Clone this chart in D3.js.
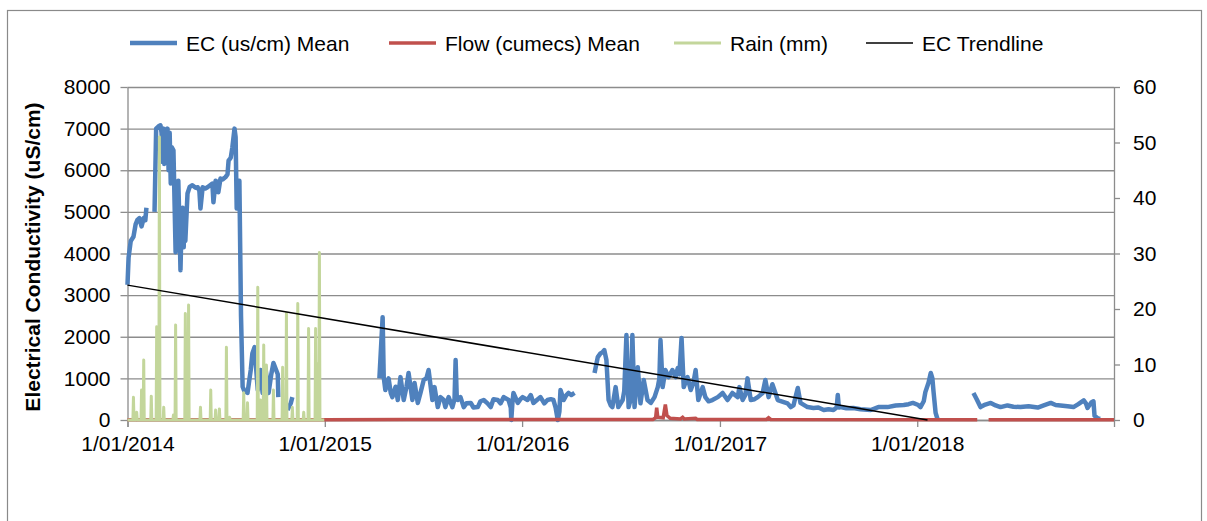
<!DOCTYPE html>
<html>
<head>
<meta charset="utf-8">
<script src="https://cdn.jsdelivr.net/npm/d3@7"></script>
<style>
body { margin: 0; background: #fff; }
text { font-family: "Liberation Sans", Arial, sans-serif; }
</style>
</head>
<body>
<script>
// EC daily mean (us/cm); null = no record
let ecMean = [
    ["2014-01-01",3250],["2014-01-03",3900],["2014-01-07",4300],["2014-01-12",4400],["2014-01-16",4700],["2014-01-19",4800],
    ["2014-01-23",4850],["2014-01-27",4650],["2014-01-31",4850],["2014-02-03",4800],["2014-02-05",5100],["2014-02-12",null],
    ["2014-02-20",5000],["2014-02-23",7000],["2014-02-27",7050],["2014-03-03",7080],["2014-03-05",6900],["2014-03-07",6200],
    ["2014-03-09",7000],["2014-03-10",6150],["2014-03-12",6900],["2014-03-14",6300],["2014-03-16",7000],["2014-03-18",6000],
    ["2014-03-20",6900],["2014-03-22",5680],["2014-03-24",6550],["2014-03-27",6480],["2014-03-31",4030],["2014-04-02",4600],
    ["2014-04-03",4960],["2014-04-05",5750],["2014-04-08",4200],["2014-04-09",3600],["2014-04-11",4700],["2014-04-13",5100],
    ["2014-04-15",4150],["2014-04-16",5000],["2014-04-18",4300],["2014-04-22",5440],["2014-04-26",5600],["2014-05-01",5640],
    ["2014-05-07",5580],["2014-05-11",5590],["2014-05-14",5500],["2014-05-16",5080],["2014-05-20",5590],["2014-05-25",5560],
    ["2014-05-29",5590],["2014-06-04",5650],["2014-06-07",5680],["2014-06-09",5230],["2014-06-13",5750],["2014-06-17",5700],
    ["2014-06-18",5470],["2014-06-22",5800],["2014-06-26",5780],["2014-07-01",5830],["2014-07-05",5900],["2014-07-07",6230],
    ["2014-07-11",6300],["2014-07-14",6550],["2014-07-18",7000],["2014-07-20",6800],["2014-07-22",5080],["2014-07-24",5750],
    ["2014-07-27",5750],["2014-07-30",2500],["2014-08-02",800],["2014-08-05",700],["2014-08-11",650],["2014-08-17",1200],
    ["2014-08-20",1600],["2014-08-24",1750],["2014-08-30",720],["2014-09-04",1200],["2014-09-08",650],["2014-09-13",1270],
    ["2014-09-19",650],["2014-09-24",1100],["2014-09-28",1370],["2014-10-06",1100],["2014-10-07",550],["2014-10-15",null],
    ["2014-10-24",240],["2014-10-30",400],["2014-11-02",550],["2014-11-10",null],
    ["2015-04-12",1000],["2015-04-18",2470],["2015-04-20",1030],["2015-04-23",720],["2015-04-29",1000],["2015-05-03",650],
    ["2015-05-06",550],["2015-05-12",800],["2015-05-16",480],["2015-05-21",1030],["2015-05-27",480],["2015-06-01",790],
    ["2015-06-05",1130],["2015-06-12",480],["2015-06-16",890],["2015-06-22",410],["2015-06-27",650],["2015-07-03",960],
    ["2015-07-08",1000],["2015-07-12",1200],["2015-07-19",480],["2015-07-23",790],["2015-07-29",310],["2015-08-03",550],
    ["2015-08-09",480],["2015-08-12",310],["2015-08-18",550],["2015-08-25",310],["2015-08-29",500],["2015-08-31",1440],
    ["2015-09-02",600],["2015-09-04",480],["2015-09-09",550],["2015-09-15",310],["2015-09-20",400],["2015-09-28",410],
    ["2015-10-03",300],["2015-10-11",310],["2015-10-16",450],["2015-10-22",480],["2015-10-29",400],["2015-11-04",310],
    ["2015-11-09",500],["2015-11-17",480],["2015-11-22",400],["2015-11-28",550],["2015-12-07",480],["2015-12-11",300],
    ["2015-12-12",0],["2015-12-14",400],["2015-12-16",650],["2015-12-24",410],["2015-12-29",500],["2016-01-02",550],
    ["2016-01-11",480],["2016-01-17",600],["2016-01-22",410],["2016-01-30",500],["2016-02-04",550],["2016-02-11",400],
    ["2016-02-17",480],["2016-02-23",500],["2016-02-28",480],["2016-03-03",300],["2016-03-07",0],["2016-03-10",200],
    ["2016-03-12",720],["2016-03-18",480],["2016-03-23",600],["2016-03-27",650],["2016-04-01",600],["2016-04-07",650],
    ["2016-04-20",null],
    ["2016-05-14",1130],["2016-05-20",1510],["2016-05-25",1600],["2016-05-29",1630],["2016-06-01",1680],["2016-06-05",1440],
    ["2016-06-09",480],["2016-06-13",350],["2016-06-16",310],["2016-06-22",790],["2016-06-27",310],["2016-07-05",480],
    ["2016-07-08",700],["2016-07-12",2040],["2016-07-16",310],["2016-07-20",500],["2016-07-23",2040],["2016-07-27",310],
    ["2016-08-02",1270],["2016-08-07",400],["2016-08-13",960],["2016-08-20",480],["2016-08-26",410],["2016-09-02",550],
    ["2016-09-08",790],["2016-09-11",1000],["2016-09-13",1920],["2016-09-17",790],["2016-09-22",1200],["2016-09-28",1030],
    ["2016-10-05",1200],["2016-10-11",1030],["2016-10-15",1250],["2016-10-18",1100],["2016-10-22",1970],["2016-10-26",790],
    ["2016-11-02",1030],["2016-11-08",720],["2016-11-13",900],["2016-11-17",1200],["2016-11-22",480],["2016-11-30",790],
    ["2016-12-05",550],["2016-12-11",450],["2016-12-18",480],["2016-12-28",550],["2017-01-06",650],["2017-01-15",480],
    ["2017-01-24",650],["2017-02-03",550],["2017-02-06",790],["2017-02-12",480],["2017-02-17",600],["2017-02-21",1000],
    ["2017-02-27",480],["2017-03-06",500],["2017-03-12",550],["2017-03-21",650],["2017-03-26",960],["2017-04-01",550],
    ["2017-04-08",860],["2017-04-18",480],["2017-04-29",430],["2017-05-06",400],["2017-05-12",310],["2017-05-17",350],
    ["2017-05-25",770],["2017-05-30",410],["2017-06-12",310],["2017-06-23",290],["2017-07-02",300],["2017-07-12",240],
    ["2017-07-21",260],["2017-07-30",240],["2017-08-05",300],["2017-08-07",600],["2017-08-09",300],["2017-08-12",310],
    ["2017-08-23",280],["2017-09-05",290],["2017-09-18",260],["2017-10-07",240],["2017-10-21",310],["2017-11-07",310],
    ["2017-11-22",350],["2017-12-07",360],["2017-12-16",380],["2017-12-24",410],["2018-01-03",360],["2018-01-07",310],
    ["2018-01-13",450],["2018-01-16",670],["2018-01-22",900],["2018-01-26",1130],["2018-01-29",1000],["2018-01-31",700],
    ["2018-02-04",170],["2018-02-08",0],["2018-02-20",null],
    ["2018-04-15",650],["2018-04-21",500],["2018-04-28",310],["2018-05-07",370],["2018-05-17",410],["2018-05-26",350],
    ["2018-06-04",310],["2018-06-17",350],["2018-06-28",320],["2018-07-11",310],["2018-07-26",330],["2018-08-12",300],
    ["2018-08-23",350],["2018-09-05",410],["2018-09-14",360],["2018-09-23",350],["2018-10-06",330],["2018-10-17",310],
    ["2018-10-26",380],["2018-11-05",470],["2018-11-09",400],["2018-11-12",290],["2018-11-19",420],["2018-11-23",450],
    ["2018-11-25",100],["2018-12-02",30],["2018-12-06",30]
];

// Flow daily mean (cumecs), secondary axis
let flowMean = [
    ["2014-01-01",0.05],["2014-12-31",0.05],["2015-06-01",0.1],["2016-08-30",0.1],["2016-09-04",0.4],["2016-09-06",2.2],
    ["2016-09-08",0.5],["2016-09-18",0.4],["2016-09-22",2.8],["2016-09-25",0.8],["2016-10-01",0.3],["2016-10-20",0.2],
    ["2016-10-24",0.5],["2016-10-27",0.2],["2016-11-17",0.3],["2016-11-20",0.1],["2017-03-28",0.1],["2017-04-01",0.4],
    ["2017-04-05",0.1],["2018-04-22",0.05],["2018-04-27",null],["2018-05-01",0.05],["2018-05-03",null],["2018-05-13",0.05],
    ["2018-12-31",0.05]
];

// Rain (mm), only the days with rain; all other days in 2014 are 0
let rainDays = [
    ["2014-01-12",4.1],["2014-01-18",1.4],["2014-01-27",5.4],["2014-01-31",10.8],["2014-02-14",4.3],["2014-02-24",16.8],
    ["2014-03-01",51],["2014-03-09",2.3],["2014-03-27",0.9],["2014-03-31",17.1],["2014-04-18",19.2],["2014-04-24",20.7],
    ["2014-05-16",2.3],["2014-06-04",5.4],["2014-06-13",1.8],["2014-06-20",2.0],["2014-07-03",13.1],["2014-07-09",0.5],
    ["2014-08-04",4.9],["2014-08-11",3.1],["2014-08-30",23.9],["2014-09-04",3.6],["2014-09-10",13.5],["2014-09-15",9.9],
    ["2014-09-28",5.4],["2014-10-15",9.5],["2014-10-22",19.2],["2014-11-02",2.3],["2014-11-12",21.0],["2014-11-23",1.4],
    ["2014-12-02",16.5],["2014-12-15",16.5],["2014-12-19",10.2],["2014-12-22",30.2]
];
let rainStart = "2014-01-01", rainEnd = "2014-12-31";

// linear EC trendline end points
let trendDates = ["2014-01-01", "2018-01-20"];
let trendValues = [3240, 0];

let ecTicks = [0, 1000, 2000, 3000, 4000, 5000, 6000, 7000, 8000];
let rightTicks = [0, 10, 20, 30, 40, 50, 60];
let xTicks = ["2014-01-01", "2015-01-01", "2016-01-01", "2017-01-01", "2018-01-01"];
let xStart = "2014-01-01", xEnd = "2018-12-31";
let legendLabels = ["EC (us/cm) Mean", "Flow (cumecs) Mean", "Rain (mm)", "EC Trendline"];

let colors = ["#4f81bd", "#c0504d", "#c3d69b", "#000000"];
let widths = [4.5, 3.5, 3, 1.5];

let parse = d3.timeParse("%Y-%m-%d");
let plotLeft = 127.5, plotRight = 1114, plotTop = 87, plotBottom = 420;

let svg = d3.select("body").append("svg")
    .attr("width", 1207)
    .attr("height", 521);

// outer chart frame
svg.append("rect")
    .attr("x", 7.5).attr("y", 10.5)
    .attr("width", 1194).attr("height", 560)
    .attr("fill", "none")
    .attr("stroke", "#8a8a8a")
    .attr("stroke-width", 1.2);

let x = d3.scaleTime().domain([parse(xStart), parse(xEnd)]).range([plotLeft, plotRight]);
let yL = d3.scaleLinear().domain([0, 8000]).range([plotBottom, plotTop]);
let yR = d3.scaleLinear().domain([0, 60]).range([plotBottom, plotTop]);

// gridlines
let grid = svg.append("g")
    .attr("transform", "translate(" + plotLeft + ",0)")
    .call(d3.axisLeft(yL).tickValues(ecTicks).tickSize(-(plotRight - plotLeft)).tickFormat(""));
grid.select(".domain").remove();
grid.selectAll("line").attr("stroke", "#8c8c8c").attr("stroke-width", 1.3);

function styleAxis(g) {
    g.select(".domain").attr("stroke", "#8c8c8c").attr("stroke-width", 1.3);
    g.selectAll(".tick line").attr("stroke", "#8c8c8c").attr("stroke-width", 1.3);
    g.selectAll("text").attr("font-size", "21px").attr("fill", "#000")
        .style("font-family", "'Liberation Sans', Arial, sans-serif");
}

let axL = svg.append("g")
    .attr("transform", "translate(" + plotLeft + ",0)")
    .call(d3.axisLeft(yL).tickValues(ecTicks).tickFormat(d3.format("d"))
        .tickSize(7).tickSizeOuter(0).tickPadding(10));
styleAxis(axL);

let axR = svg.append("g")
    .attr("transform", "translate(" + plotRight + ",0)")
    .call(d3.axisRight(yR).tickValues(rightTicks).tickFormat(d3.format("d"))
        .tickSize(6).tickSizeOuter(0).tickPadding(13));
styleAxis(axR);

let axX = svg.append("g")
    .attr("transform", "translate(0," + plotBottom + ")")
    .call(d3.axisBottom(x).tickValues(xTicks.map(parse))
        .tickFormat(d3.timeFormat("%-d/%m/%Y"))
        .tickSize(7).tickSizeOuter(7).tickPadding(9));
styleAxis(axX);

svg.append("text")
    .attr("transform", "translate(40,257) rotate(-90)")
    .attr("text-anchor", "middle")
    .attr("font-size", "21px")
    .attr("font-weight", "bold")
    .text("Electrical Conductivity (uS/cm)");

// series
let ecLine = d3.line()
    .defined(d => d[1] !== null)
    .x(d => x(parse(d[0])))
    .y(d => yL(d[1]));

let rLine = d3.line()
    .defined(d => d[1] !== null)
    .x(d => x(d[0] instanceof Date ? d[0] : parse(d[0])))
    .y(d => yR(d[1]));

svg.append("path")
    .datum(ecMean)
    .attr("d", ecLine)
    .attr("fill", "none")
    .attr("stroke", colors[0])
    .attr("stroke-width", widths[0])
    .attr("stroke-linejoin", "round");

svg.append("path")
    .datum(flowMean)
    .attr("d", rLine)
    .attr("fill", "none")
    .attr("stroke", colors[1])
    .attr("stroke-width", widths[1]);

// daily rain line: the day before and after each rain day are dry (0)
let rainPts = [[parse(rainStart), 0]];
rainDays.forEach(function (r) {
    let day = parse(r[0]);
    rainPts.push([d3.timeDay.offset(day, -1), 0]);
    rainPts.push([day, r[1]]);
    rainPts.push([d3.timeDay.offset(day, 1), 0]);
});
rainPts.push([parse(rainEnd), 0]);

svg.append("path")
    .datum(rainPts)
    .attr("d", rLine)
    .attr("fill", "none")
    .attr("stroke", colors[2])
    .attr("stroke-width", widths[2])
    .attr("stroke-linejoin", "round");

svg.append("path")
    .datum(trendDates.map((d, i) => [d, trendValues[i]]))
    .attr("d", ecLine)
    .attr("fill", "none")
    .attr("stroke", colors[3])
    .attr("stroke-width", widths[3]);

// legend
let legendX = [130, 389, 674, 866];
let legend = svg.selectAll(".legend")
    .data(legendLabels)
    .enter().append("g")
    .attr("class", "legend")
    .attr("transform", (d, i) => "translate(" + legendX[i] + ",43)");

legend.append("line")
    .attr("x1", 0).attr("x2", 47)
    .attr("stroke", (d, i) => colors[i])
    .attr("stroke-width", (d, i) => widths[i]);

legend.append("text")
    .attr("x", 56)
    .attr("y", 7.5)
    .attr("font-size", "21px")
    .text(d => d);
</script>
</body>
</html>
